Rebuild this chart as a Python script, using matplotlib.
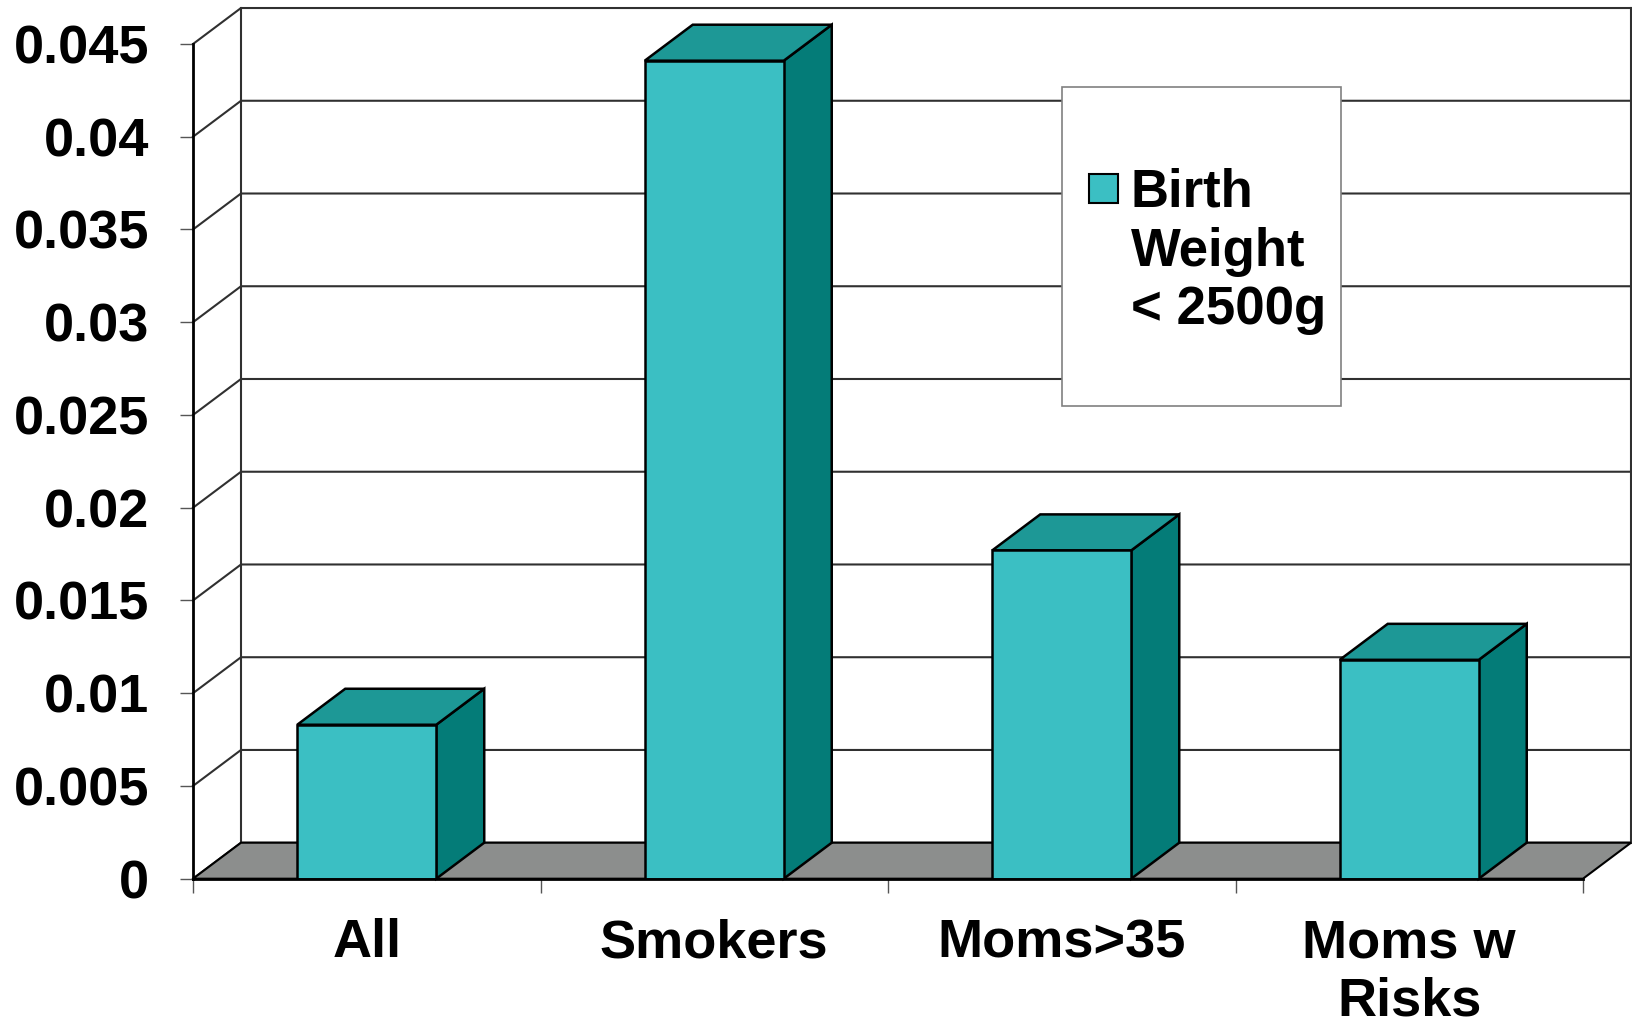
import matplotlib
matplotlib.use("Agg")
import matplotlib.pyplot as plt
from matplotlib.patches import Polygon, Rectangle

# Dados do gráfico
categorias = ["All", "Smokers", "Moms>35", "Moms w\nRisks"]
valores = [0.0083, 0.0441, 0.0177, 0.0118]
y_ticks = [0, 0.005, 0.01, 0.015, 0.02, 0.025, 0.03, 0.035, 0.04, 0.045]
y_labels = ["0", "0.005", "0.01", "0.015", "0.02", "0.025", "0.03", "0.035", "0.04", "0.045"]
legenda = "Birth\nWeight\n< 2500g"

# Cores (estilo Excel 3D)
cor_frente = "#3bbfc3"
cor_topo = "#1d9896"
cor_lado = "#047c78"
cor_chao = "#8c8e8d"
cor_grade = "#303030"

plt.rcParams["font.family"] = ["Liberation Sans", "DejaVu Sans"]
plt.rcParams["font.weight"] = "bold"

fig = plt.figure(figsize=(16.32, 10.23), dpi=100)
ax = fig.add_axes([0.11826, 0.14106, 0.85172, 0.81593])

n = len(categorias)
x0, x1 = -0.5, n - 0.5
ax.set_xlim(x0, x1)
ax.set_ylim(0, 0.045)

# profundidade do efeito 3D (em unidades de dados)
dx = 0.1381
dy = 0.00194
largura = 0.4

# Paredes de fundo com linhas de grade
for v in y_ticks:
    ax.plot([x0, x0 + dx, x1 + dx], [v, v + dy, v + dy], color=cor_grade,
            lw=1.5, zorder=1, clip_on=False)
ax.plot([x0 + dx, x0 + dx], [dy, y_ticks[-1] + dy], color=cor_grade, lw=1.5,
        zorder=1, clip_on=False)
ax.plot([x1 + dx, x1 + dx], [dy, y_ticks[-1] + dy], color=cor_grade, lw=1.5,
        zorder=1, clip_on=False)

# Chão cinza
chao = Polygon([(x0, 0), (x1, 0), (x1 + dx, dy), (x0 + dx, dy)], closed=True,
               facecolor=cor_chao, edgecolor="black", lw=1.5, zorder=2, clip_on=False)
ax.add_patch(chao)

# Barras: faces laterais e topo, depois a frente
for i, v in enumerate(valores):
    a = i - largura / 2
    b = i + largura / 2
    lado = Polygon([(b, 0), (b + dx, dy), (b + dx, v + dy), (b, v)], closed=True,
                   facecolor=cor_lado, edgecolor="black", lw=1.8, zorder=3, clip_on=False)
    topo = Polygon([(a, v), (a + dx, v + dy), (b + dx, v + dy), (b, v)], closed=True,
                   facecolor=cor_topo, edgecolor="black", lw=1.8, zorder=3, clip_on=False)
    ax.add_patch(lado)
    ax.add_patch(topo)

ax.bar(range(n), valores, width=largura, color=cor_frente, edgecolor="black",
       linewidth=1.8, zorder=4)

# Eixos
for s in ["top", "right"]:
    ax.spines[s].set_visible(False)
ax.spines["left"].set_linewidth(2)
ax.spines["bottom"].set_linewidth(2)
ax.spines["left"].set_zorder(5)
ax.spines["bottom"].set_zorder(5)

ax.set_yticks(y_ticks)
ax.set_yticklabels(y_labels, fontsize=39, fontweight="bold")
ax.tick_params(axis="y", direction="out", length=9.4, width=1, color="#555555", pad=22)

ax.set_xticks([x0 + k for k in range(n + 1)])
ax.set_xticklabels([])
ax.set_xticks(range(n), minor=True)
ax.set_xticklabels(categorias, minor=True, fontsize=39, fontweight="bold")
ax.tick_params(axis="x", which="major", direction="out", length=10, width=1, color="#555555")
ax.tick_params(axis="x", which="minor", length=0, pad=28.5)
for t in ax.get_xticklabels(minor=True):
    t.set_linespacing(1.2)

# Legenda desenhada manualmente (quadrado alinhado à primeira linha)
fig.add_artist(Rectangle((0.6505, 0.60264), 0.17096, 0.3128, transform=fig.transFigure,
                         facecolor="white", edgecolor="#808080", lw=1.2, zorder=10))
fig.add_artist(Rectangle((0.66728, 0.80156), 0.01777, 0.02835, transform=fig.transFigure,
                         facecolor=cor_frente, edgecolor="black", lw=1.5, zorder=11))
fig.text(0.6930, 0.8358, legenda, fontsize=38, fontweight="bold", va="top",
         ha="left", linespacing=1.22, zorder=11)

fig.savefig("out.png", dpi=100)
